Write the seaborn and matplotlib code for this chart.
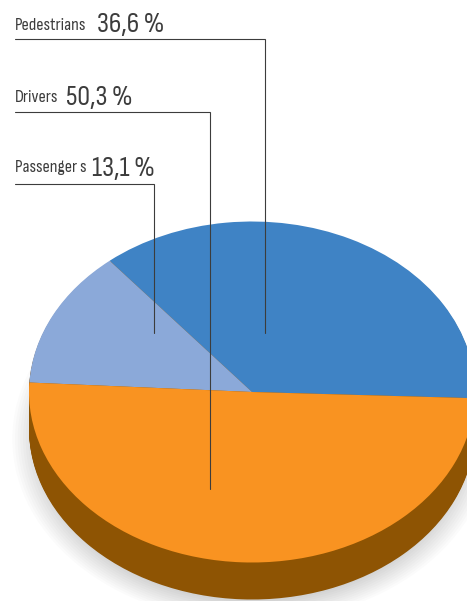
import matplotlib
matplotlib.use("Agg")
import matplotlib.pyplot as plt
import seaborn as sns

categories = ["Pedestrians", "Passenger s", "Drivers"]
shares = [36.6, 13.1, 50.3]
top_colors = ["#3f83c5", "#8ba9d9", "#f99321"]
side_color = "#8e5403"

sns.set_theme(style="white")
plt.rcParams["font.family"] = ["Sofia Sans Condensed", "DejaVu Sans"]
palette = sns.color_palette(top_colors)

W, H = 467, 601
cx, cy, rx, ry = 252, 392, 223, 170.5
depth = 37

fig = plt.figure(figsize=(W / 100, H / 100), dpi=100)
ax = fig.add_axes([0, 0, 1, 1])
start = -2.1

# soft shadow, stack of faint discs
for i in range(12):
    r = 1.075 - i * 0.012
    ax.pie([1], radius=r, center=(0, -(depth + 10) / ry), colors=["#000000"],
           wedgeprops={"linewidth": 0, "alpha": 0.017})

# side of the disc
for d in range(depth, 0, -1):
    ax.pie(shares, startangle=start, center=(0, -d / ry), colors=[side_color] * 3,
           wedgeprops={"linewidth": 0})

# top face
ax.pie(shares, startangle=start, colors=palette, wedgeprops={"linewidth": 0})

ax.set_aspect("auto")
ax.set_xlim((0 - cx) / rx, (W - cx) / rx)
ax.set_ylim((cy - H) / ry, cy / ry)
ax.axis("off")

# overlay in pixel coordinates for leaders and labels
ov = fig.add_axes([0, 0, 1, 1], facecolor="none")
ov.set_xlim(0, W)
ov.set_ylim(H, 0)
ov.axis("off")

layout = {
    "Pedestrians": (38.5, 265, 333, 97, 32, 29.5),
    "Drivers": (112, 210, 489, 66, 105, 102),
    "Passenger s": (183.5, 154, 333, 92, 176, 172),
}
for name, value in zip(categories, shares):
    y, x_end, y_end, x_val, y_val, y_lab = layout[name]
    ov.plot([15, x_end, x_end], [y, y, y_end], color="#3c3c3c", lw=0.8, solid_joinstyle="miter")
    ov.text(15, y_lab, name, fontsize=13, color="#3c3c3c", ha="left", va="baseline")
    ov.text(x_val, y_val, f"{value:.1f}".replace(".", ",") + " %", fontsize=20.5,
            color="#3c3c3c", ha="left", va="baseline")

fig.savefig("out.png", dpi=100, facecolor="white")
